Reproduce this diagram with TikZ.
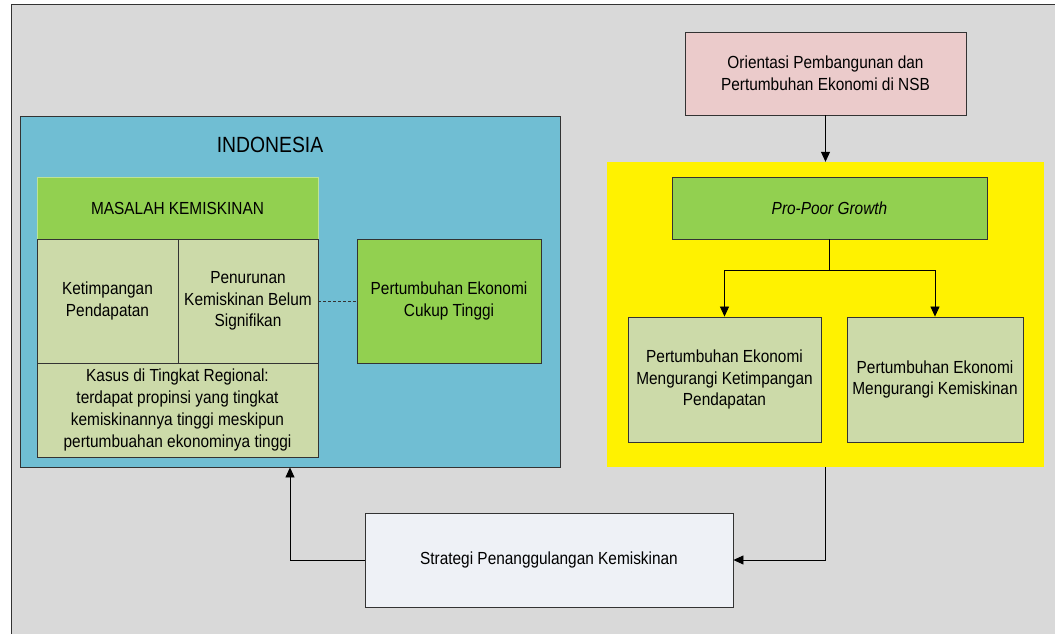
\documentclass[tikz,border=0pt]{standalone}
\usepackage{fontspec}
\setmainfont[FakeStretch=0.88]{Liberation Sans}
\usepackage{xcolor}
\usepackage{tikz}
\usetikzlibrary{arrows.meta, positioning, calc}
\definecolor{bgGray}{HTML}{D9D9D9}
\definecolor{indoBlue}{HTML}{70BED3}
\definecolor{leafGreen}{HTML}{92D050}
\definecolor{paleGreen}{HTML}{CCDAA9}
\definecolor{paleRose}{HTML}{EBCBCB}
\definecolor{paleBlue}{HTML}{EEF1F6}
\definecolor{lineGray}{HTML}{333333}

\begin{document}
\begin{tikzpicture}[x=1pt, y=-1pt,
  every node/.style={font=\fontsize{17.5}{21.7}\selectfont, align=center, inner sep=0pt},
  box/.style={draw=lineGray, line width=0.9pt, rectangle},
  arr/.style={draw=black, line width=0.8pt, -{Triangle[length=10pt,width=9pt]}}]
  \useasboundingbox (0,0) rectangle (1055,634);
  \fill[bgGray] (11,5) rectangle (1055,634);
  \draw[lineGray, line width=1pt] (11,634) -- (11,5) -- (1055,5);

  \node[box, fill=indoBlue, minimum width=540pt, minimum height=351pt] (indo) at (290,291.5) {};
  \node[font=\fontsize{22}{26}\selectfont] (indoTitle) at (270,145) {INDONESIA};
  \node[draw=leafGreen!60!white, line width=0.6pt, fill=leafGreen, minimum width=281pt, minimum height=62pt] (masalah) at (177.5,208) {MASALAH KEMISKINAN};
  \node[box, fill=paleGreen, minimum width=141pt, minimum height=124pt] (timpang) at (107.5,301) {Ketimpangan\\Pendapatan};
  \node[box, fill=paleGreen, minimum width=140pt, minimum height=124pt] (turun) at (248,301) {Penurunan\\Kemiskinan Belum\\Signifikan};
  \node[box, fill=paleGreen, minimum width=281pt, minimum height=94pt] (kasus) at (177.5,410) {Kasus di Tingkat Regional:\\terdapat propinsi yang tingkat\\kemiskinannya tinggi meskipun\\pertumbuahan ekonominya tinggi};
  \node[box, fill=leafGreen, minimum width=184pt, minimum height=124pt] (tinggi) at (449,301) {Pertumbuhan Ekonomi\\Cukup Tinggi};
  \draw[lineGray, line width=0.8pt, dash pattern=on 3pt off 2pt] (turun.east) -- (tinggi.west);

  \node[box, fill=paleRose, minimum width=281pt, minimum height=83pt] (orient) at (825.5,73.5) {Orientasi Pembangunan dan\\Pertumbuhan Ekonomi di NSB};
  \node[fill=yellow, minimum width=437pt, minimum height=305pt] (ppg) at (825.5,314.5) {};
  \node[box, fill=leafGreen, minimum width=315pt, minimum height=62pt] (propoor) at (829.5,208) {\textit{Pro-Poor Growth}};
  \node[box, fill=paleGreen, minimum width=193pt, minimum height=125pt] (kurangTimpang) at (724.5,379.5) {Pertumbuhan Ekonomi\\Mengurangi Ketimpangan\\Pendapatan};
  \node[box, fill=paleGreen, minimum width=176pt, minimum height=125pt] (kurangMiskin) at (935,379.5) {Pertumbuhan Ekonomi\\Mengurangi Kemiskinan};

  \node[box, fill=paleBlue, minimum width=368pt, minimum height=94pt] (strategi) at (549,560) {Strategi Penanggulangan Kemiskinan};

  \draw[arr] (orient.south) -- (ppg.north);
  \draw[line width=0.8pt] (propoor.south) -- ++(0,31) coordinate (split);
  \draw[arr] (split) -| (kurangTimpang.north);
  \draw[arr] (split) -| (kurangMiskin.north);
  \draw[arr] (ppg.south) |- (strategi.east);
  \draw[arr] (strategi.west) -| (indo.south);
\end{tikzpicture}
\end{document}
